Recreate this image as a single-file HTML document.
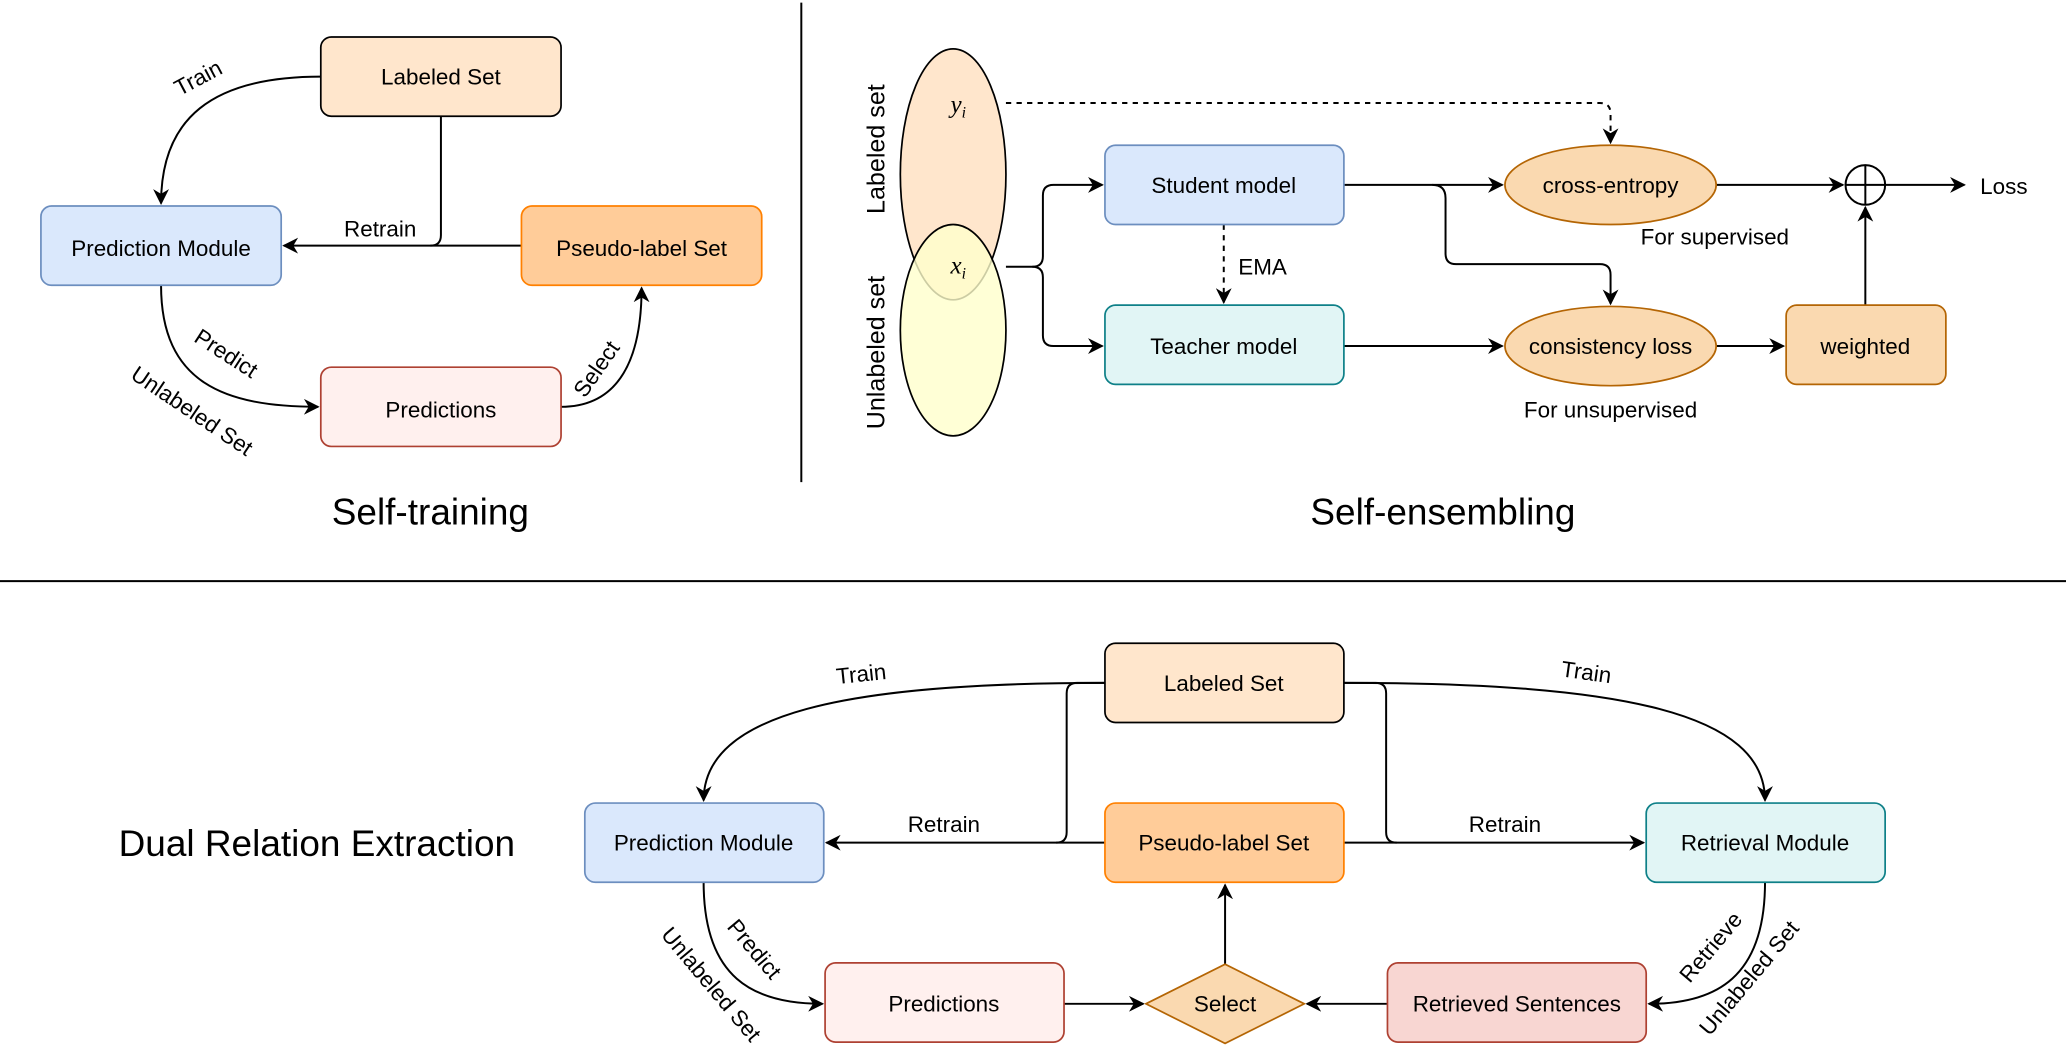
<!DOCTYPE html>
<html><head><meta charset="utf-8"><style>
html,body{margin:0;padding:0;background:#fff;}
svg{display:block;}
text{font-family:"Liberation Sans",Arial,sans-serif;font-size:17px;fill:#000;}
.t{font-size:28px;}
</style></head><body>
<svg width="2066" height="1054" viewBox="0 0 1565 798" preserveAspectRatio="none" xmlns="http://www.w3.org/2000/svg">
<defs>
<marker id="a" viewBox="0 0 10 10" refX="9" refY="5" markerWidth="7" markerHeight="7" orient="auto-start-reverse" markerUnits="userSpaceOnUse">
<path d="M0,0 L10,5 L0,10 L3,5 z" fill="#000"/></marker>
<marker id="b" viewBox="0 0 10 10" refX="9" refY="5" markerWidth="12" markerHeight="12" orient="auto" markerUnits="userSpaceOnUse">
<path d="M0,0 L10,5 L0,10 L3,5 z" fill="#000"/></marker>
</defs>
<g fill="none" stroke="#000" stroke-width="1.5">
<!-- dividers -->
<line x1="607" y1="2" x2="607" y2="365"/>
<line x1="0" y1="440" x2="1565" y2="440"/>
<!-- self-training arrows -->
<path d="M243 58 C160 58 122 90 122 154" marker-end="url(#b)"/>
<path d="M334 88 V178 Q334 186 326 186"/>
<path d="M395 186 H215" marker-end="url(#b)"/>
<path d="M122 216 C122 290 170 308 241 308" marker-end="url(#b)"/>
<path d="M425 308 C470 308 486 270 486 218" marker-end="url(#b)"/>
<!-- self-ensembling -->
<path d="M762 78 H1212 Q1220 78 1220 86 V108" stroke-dasharray="4,4" marker-end="url(#b)"/>
<path d="M762 202 H782 Q790 202 790 194 V148 Q790 140 798 140 H835" marker-end="url(#b)"/>
<path d="M782 202 Q790 202 790 210 V254 Q790 262 798 262 H835" marker-end="url(#b)"/>
<path d="M927 170 V229" stroke-dasharray="4,4" marker-end="url(#b)"/>
<path d="M1018 140 H1138" marker-end="url(#b)"/>
<path d="M1085 140 Q1095 140 1095 150 V192 Q1095 200 1103 200 H1212 Q1220 200 1220 208 V230" marker-end="url(#b)"/>
<path d="M1018 262 H1138" marker-end="url(#b)"/>
<path d="M1300 262 H1351" marker-end="url(#b)"/>
<path d="M1413 231 V157" marker-end="url(#b)"/>
<path d="M1300 140 H1396" marker-end="url(#b)"/>
<path d="M1428 140 H1488" marker-end="url(#b)"/>
<!-- dual -->
<path d="M837 517 C640 517 533 540 533 606" marker-end="url(#b)"/>
<path d="M1018 517 C1230 517 1337 540 1337 606" marker-end="url(#b)"/>
<path d="M837 517 H816 Q808 517 808 525 V630 Q808 638 800 638"/>
<path d="M837 638 H626" marker-end="url(#b)"/>
<path d="M1018 517 H1042 Q1050 517 1050 525 V630 Q1050 638 1058 638"/>
<path d="M1018 638 H1245" marker-end="url(#b)"/>
<path d="M533 668 C533 740 570 760 623 760" marker-end="url(#b)"/>
<path d="M806 760 H866" marker-end="url(#b)"/>
<path d="M1051 760 H990" marker-end="url(#b)"/>
<path d="M928 730 V670" marker-end="url(#b)"/>
<path d="M1337 668 C1337 740 1300 760 1249 760" marker-end="url(#b)"/>
</g>
<!-- self-training nodes -->
<rect x="243" y="28" width="182" height="60" rx="8" fill="#ffe6cc" stroke="#000" stroke-width="1.3"/>
<rect x="31" y="156" width="182" height="60" rx="8" fill="#dae8fc" stroke="#6c8ebf" stroke-width="1.3"/>
<rect x="395" y="156" width="182" height="60" rx="8" fill="#ffcc99" stroke="#ff8000" stroke-width="1.3"/>
<rect x="243" y="278" width="182" height="60" rx="8" fill="#fff0ee" stroke="#ae4132" stroke-width="1.3"/>
<g text-anchor="middle">
<text x="334" y="64">Labeled Set</text>
<text x="122" y="194">Prediction Module</text>
<text x="486" y="194">Pseudo-label Set</text>
<text x="334" y="316">Predictions</text>
<text x="288" y="179">Retrain</text>
<text x="326" y="397" class="t">Self-training</text>
</g>
<text transform="translate(136,73) rotate(-28)">Train</text>
<text transform="translate(146,258) rotate(33)">Predict</text>
<text transform="translate(98,286) rotate(34)">Unlabeled Set</text>
<text transform="translate(443,302) rotate(-55)">Select</text>
<!-- self-ensembling nodes -->
<ellipse cx="722" cy="132" rx="40" ry="95" fill="#ffe6cc" stroke="#000" stroke-width="1.3"/>
<ellipse cx="722" cy="250" rx="40" ry="80" fill="#ffffcc" fill-opacity="0.8" stroke="#000" stroke-width="1.3"/>
<path d="M722 172 A40 95 0 0 1 762 132" fill="none"/>
<text x="720" y="85" font-family="Liberation Serif" font-style="italic" style="font-family:'Liberation Serif',serif;font-size:19px;font-style:italic">y<tspan font-size="12" dy="4" style="font-size:12px">i</tspan></text>
<text x="720" y="207" style="font-family:'Liberation Serif',serif;font-size:19px;font-style:italic">x<tspan dy="4" style="font-size:12px">i</tspan></text>
<text transform="translate(670,162) rotate(-90)" style="font-size:19px">Labeled set</text>
<text transform="translate(670,325) rotate(-90)" style="font-size:19px">Unlabeled set</text>
<rect x="837" y="110" width="181" height="60" rx="8" fill="#dae8fc" stroke="#6c8ebf" stroke-width="1.3"/>
<rect x="837" y="231" width="181" height="60" rx="8" fill="#e1f5f5" stroke="#0e8088" stroke-width="1.3"/>
<ellipse cx="1220" cy="140" rx="80" ry="30" fill="#fad9b0" stroke="#b46504" stroke-width="1.3"/>
<ellipse cx="1220" cy="262" rx="80" ry="30" fill="#fad9b0" stroke="#b46504" stroke-width="1.3"/>
<rect x="1353" y="231" width="121" height="60" rx="8" fill="#fad9b0" stroke="#b46504" stroke-width="1.3"/>
<circle cx="1413" cy="140" r="15" fill="#fff" stroke="#000" stroke-width="1.5"/>
<path d="M1398 140 H1428 M1413 125 V155" stroke="#000" stroke-width="1.5"/>
<g text-anchor="middle">
<text x="927" y="146">Student model</text>
<text x="927" y="268">Teacher model</text>
<text x="1220" y="146">cross-entropy</text>
<text x="1220" y="268">consistency loss</text>
<text x="1413" y="268">weighted</text>
<text x="1299" y="185">For supervised</text>
<text x="1220" y="316">For unsupervised</text>
<text x="1093" y="397" class="t">Self-ensembling</text>
</g>
<text x="938" y="208">EMA</text>
<text x="1500" y="147">Loss</text>
<!-- dual nodes -->
<rect x="837" y="487" width="181" height="60" rx="8" fill="#ffe6cc" stroke="#000" stroke-width="1.3"/>
<rect x="443" y="608" width="181" height="60" rx="8" fill="#dae8fc" stroke="#6c8ebf" stroke-width="1.3"/>
<rect x="837" y="608" width="181" height="60" rx="8" fill="#ffcc99" stroke="#ff8000" stroke-width="1.3"/>
<rect x="1247" y="608" width="181" height="60" rx="8" fill="#e1f5f5" stroke="#0e8088" stroke-width="1.3"/>
<rect x="625" y="729" width="181" height="60" rx="8" fill="#fff0ee" stroke="#ae4132" stroke-width="1.3"/>
<rect x="1051" y="729" width="196" height="60" rx="8" fill="#f8d6d2" stroke="#ae4132" stroke-width="1.3"/>
<path d="M868 760 L928 730 L988 760 L928 790 Z" fill="#fad9b0" stroke="#b46504" stroke-width="1.3"/>
<g text-anchor="middle">
<text x="927" y="523">Labeled Set</text>
<text x="533" y="644">Prediction Module</text>
<text x="927" y="644">Pseudo-label Set</text>
<text x="1337" y="644">Retrieval Module</text>
<text x="715" y="766">Predictions</text>
<text x="1149" y="766">Retrieved Sentences</text>
<text x="928" y="766">Select</text>
<text x="715" y="630">Retrain</text>
<text x="1140" y="630">Retrain</text>
<text x="240" y="648" class="t">Dual Relation Extraction</text>
</g>
<text transform="translate(634,518) rotate(-6)">Train</text>
<text transform="translate(1182,512) rotate(8)">Train</text>
<text transform="translate(550,702) rotate(50)">Predict</text>
<text transform="translate(500,708) rotate(50)">Unlabeled Set</text>
<text transform="translate(1280,745) rotate(-50)">Retrieve</text>
<text transform="translate(1295,785) rotate(-50)">Unlabeled Set</text>
</svg>
</body></html>
